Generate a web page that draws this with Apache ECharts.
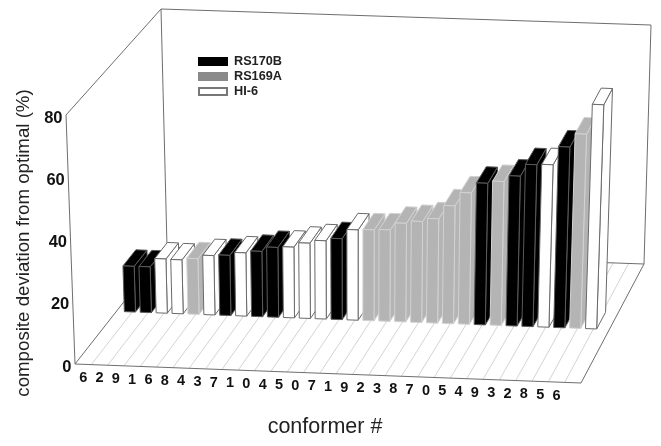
<!DOCTYPE html>
<html><head><meta charset="utf-8">
<style>html,body{margin:0;padding:0;background:#fff}#c{width:661px;height:446px}</style>
<script src="https://cdn.jsdelivr.net/npm/echarts@6/dist/echarts.min.js"></script>
</head><body><div id="c"></div>
<script>
const categories = ['6','2','9','1','6','8','4','3','7','1','0','4','5','0','7','1','9','2','3','8','7','0','5','4','9','3','2','8','5','6'];
const deviation = [15,15,17.8,17.7,18.3,19.5,19.8,20.8,21.5,23,23.3,24.8,25.8,26.7,29.8,30,30.2,32.6,33.4,34.5,39,43.5,46.9,47.7,49.7,53.7,53.9,60,64.5,74.5];
const compound = ['RS170B','RS170B','HI-6','HI-6','RS169A','HI-6','RS170B','HI-6','RS170B','RS170B','HI-6','HI-6','HI-6','RS170B','HI-6','RS169A','RS169A','RS169A','RS169A','RS169A','RS169A','RS169A','RS170B','RS169A','RS170B','RS170B','HI-6','RS170B','RS169A','HI-6'];
const yTicks = [0,20,40,60,80];
const seriesNames = ['RS170B','RS169A','HI-6'];

const legendColor = {'RS170B':'#000','RS169A':'#8a8a8a','HI-6':'#fff'};
const fills = {'RS170B':'#000','RS169A':'#b4b4b4','HI-6':'#fff'};
const edges = {'RS170B':'#5a5a5a','RS169A':'#d2d2d2','HI-6':'#6a6a6a'};

// box corners on screen: F/B front/back, B/T bottom/top, L/R left/right
const box = {FBL:[75,364],FBR:[581,383],BBL:[167,247],BBR:[644,264],FTL:[66,115],FTR:[590,141],BTL:[161,9],BTR:[651,25]};
const SLOTS = 31, YMAX = 80, BAR_W = 0.7, D0 = 0.45, D1 = 0.59;
const FONT = '"Liberation Sans", Arial, sans-serif';
const lerp=(a,b,s)=>[a[0]+(b[0]-a[0])*s,a[1]+(b[1]-a[1])*s];
function projector(params, api){
  const cs = params.coordSys;
  return function(x,d,v){
    const c = api.coord([x,v]);
    const t = (c[0]-cs.x)/cs.width, h = (cs.y+cs.height-c[1])/cs.height;
    const fb = lerp(box.FBL,box.FBR,t), bb = lerp(box.BBL,box.BBR,t);
    const ft = lerp(box.FTL,box.FTR,t), bt = lerp(box.BTL,box.BTR,t);
    return lerp(lerp(fb,bb,d),lerp(ft,bt,d),h);
  };
}
function barItem(name){
  return function(params, api){
    const P = projector(params, api);
    const i = api.value(0), v = api.value(1);
    const x0=i+0.5, x1=x0+BAR_W;
    const style={fill:fills[name],stroke:edges[name],lineWidth:1,lineJoin:'round'};
    const poly=(pts)=>({type:'polygon',z2:100+i,shape:{points:pts},style:style});
    return {type:'group',children:[
      poly([P(x1,D0,0),P(x1,D1,0),P(x1,D1,v),P(x1,D0,v)]),
      poly([P(x0,D0,v),P(x1,D0,v),P(x1,D1,v),P(x0,D1,v)]),
      poly([P(x0,D0,0),P(x1,D0,0),P(x1,D0,v),P(x0,D0,v)])
    ]};
  };
}
function frameItem(params, api){
  const P = projector(params, api);
  const kids=[];
  const ln=(a,b,col)=>kids.push({type:'line',z2:col==='#d4d4d4'?1:2,shape:{x1:a[0],y1:a[1],x2:b[0],y2:b[1]},style:{stroke:col,lineWidth:1}});
  for(let k=1;k<SLOTS;k++) ln(P(k,0,0),P(k,1,0),'#d4d4d4');
  const dark='#6e6e6e';
  ln(P(0,0,0),P(SLOTS,0,0),dark);
  ln(P(0,0,0),P(0,1,0),dark);
  ln(P(SLOTS,0,0),P(SLOTS,1,0),dark);
  ln(P(0,1,0),P(SLOTS,1,0),dark);
  ln(P(0,0,0),P(0,0,YMAX),dark);
  ln(P(0,0,YMAX),P(0,1,YMAX),dark);
  ln(P(0,1,0),P(0,1,YMAX),dark);
  ln(P(SLOTS,1,0),P(SLOTS,1,YMAX),dark);
  ln(P(0,1,YMAX),P(SLOTS,1,YMAX),dark);
  return {type:'group',children:kids};
}
function xTickItem(params, api){
  const P = projector(params, api);
  const i = api.value(0), p = P(i+0.5,0,0);
  return {type:'text',z2:5,style:{text:categories[i],x:p[0],y:p[1]+13.5,align:'center',verticalAlign:'middle',
    fill:'#111',font:'bold 14.5px '+FONT}};
}
function yTickItem(params, api){
  const P = projector(params, api);
  const v = api.value(1), p = P(0,0,v);
  return {type:'text',z2:5,style:{text:String(v),x:p[0]-3.5,y:p[1]+3,align:'right',verticalAlign:'middle',
    fill:'#111',font:'bold 16.5px '+FONT}};
}
const barSeries = seriesNames.map(name=>({
  name:name,type:'custom',coordinateSystem:'cartesian2d',
  itemStyle:{color:legendColor[name],borderColor:name==='HI-6'?'#777':legendColor[name],borderWidth:1},
  renderItem:barItem(name),
  data:deviation.map((v,i)=>[i,v]).filter(d=>compound[d[0]]===name)
}));
const chart = echarts.init(document.getElementById('c'),null,{renderer:'canvas'});
chart.setOption({
  animation:false,backgroundColor:'#fff',
  grid:{left:75,right:80,top:122,bottom:82},
  legend:{data:seriesNames,orient:'vertical',left:198,top:55,padding:0,itemWidth:28,itemHeight:7,itemGap:2,icon:'rect',selectedMode:false,
    textStyle:{fontFamily:FONT,fontWeight:'bold',fontSize:12.7,color:'#222',padding:[0,0,0,2]}},
  xAxis:{type:'value',min:0,max:SLOTS,name:'conformer #',nameLocation:'middle',nameGap:52,
    nameTextStyle:{fontFamily:FONT,fontSize:21.5,color:'#222',padding:[0,6,0,0]},
    axisLine:{show:false},axisTick:{show:false},axisLabel:{show:false},splitLine:{show:false}},
  yAxis:{type:'value',min:0,max:YMAX,interval:20,name:'composite deviation from optimal (%)',nameLocation:'middle',nameGap:42,
    nameTextStyle:{fontFamily:FONT,fontSize:18.7,color:'#222'},
    axisLine:{show:false},axisTick:{show:false},axisLabel:{show:false},splitLine:{show:false}},
  series:[
    {name:'frame',type:'custom',coordinateSystem:'cartesian2d',renderItem:frameItem,data:[[0,0]],silent:true},
    ...barSeries,
    {name:'xticks',type:'custom',coordinateSystem:'cartesian2d',renderItem:xTickItem,data:categories.map((c,i)=>[i,0]),silent:true},
    {name:'yticks',type:'custom',coordinateSystem:'cartesian2d',renderItem:yTickItem,data:yTicks.map(v=>[0,v]),silent:true}
  ]
});
</script></body></html>
